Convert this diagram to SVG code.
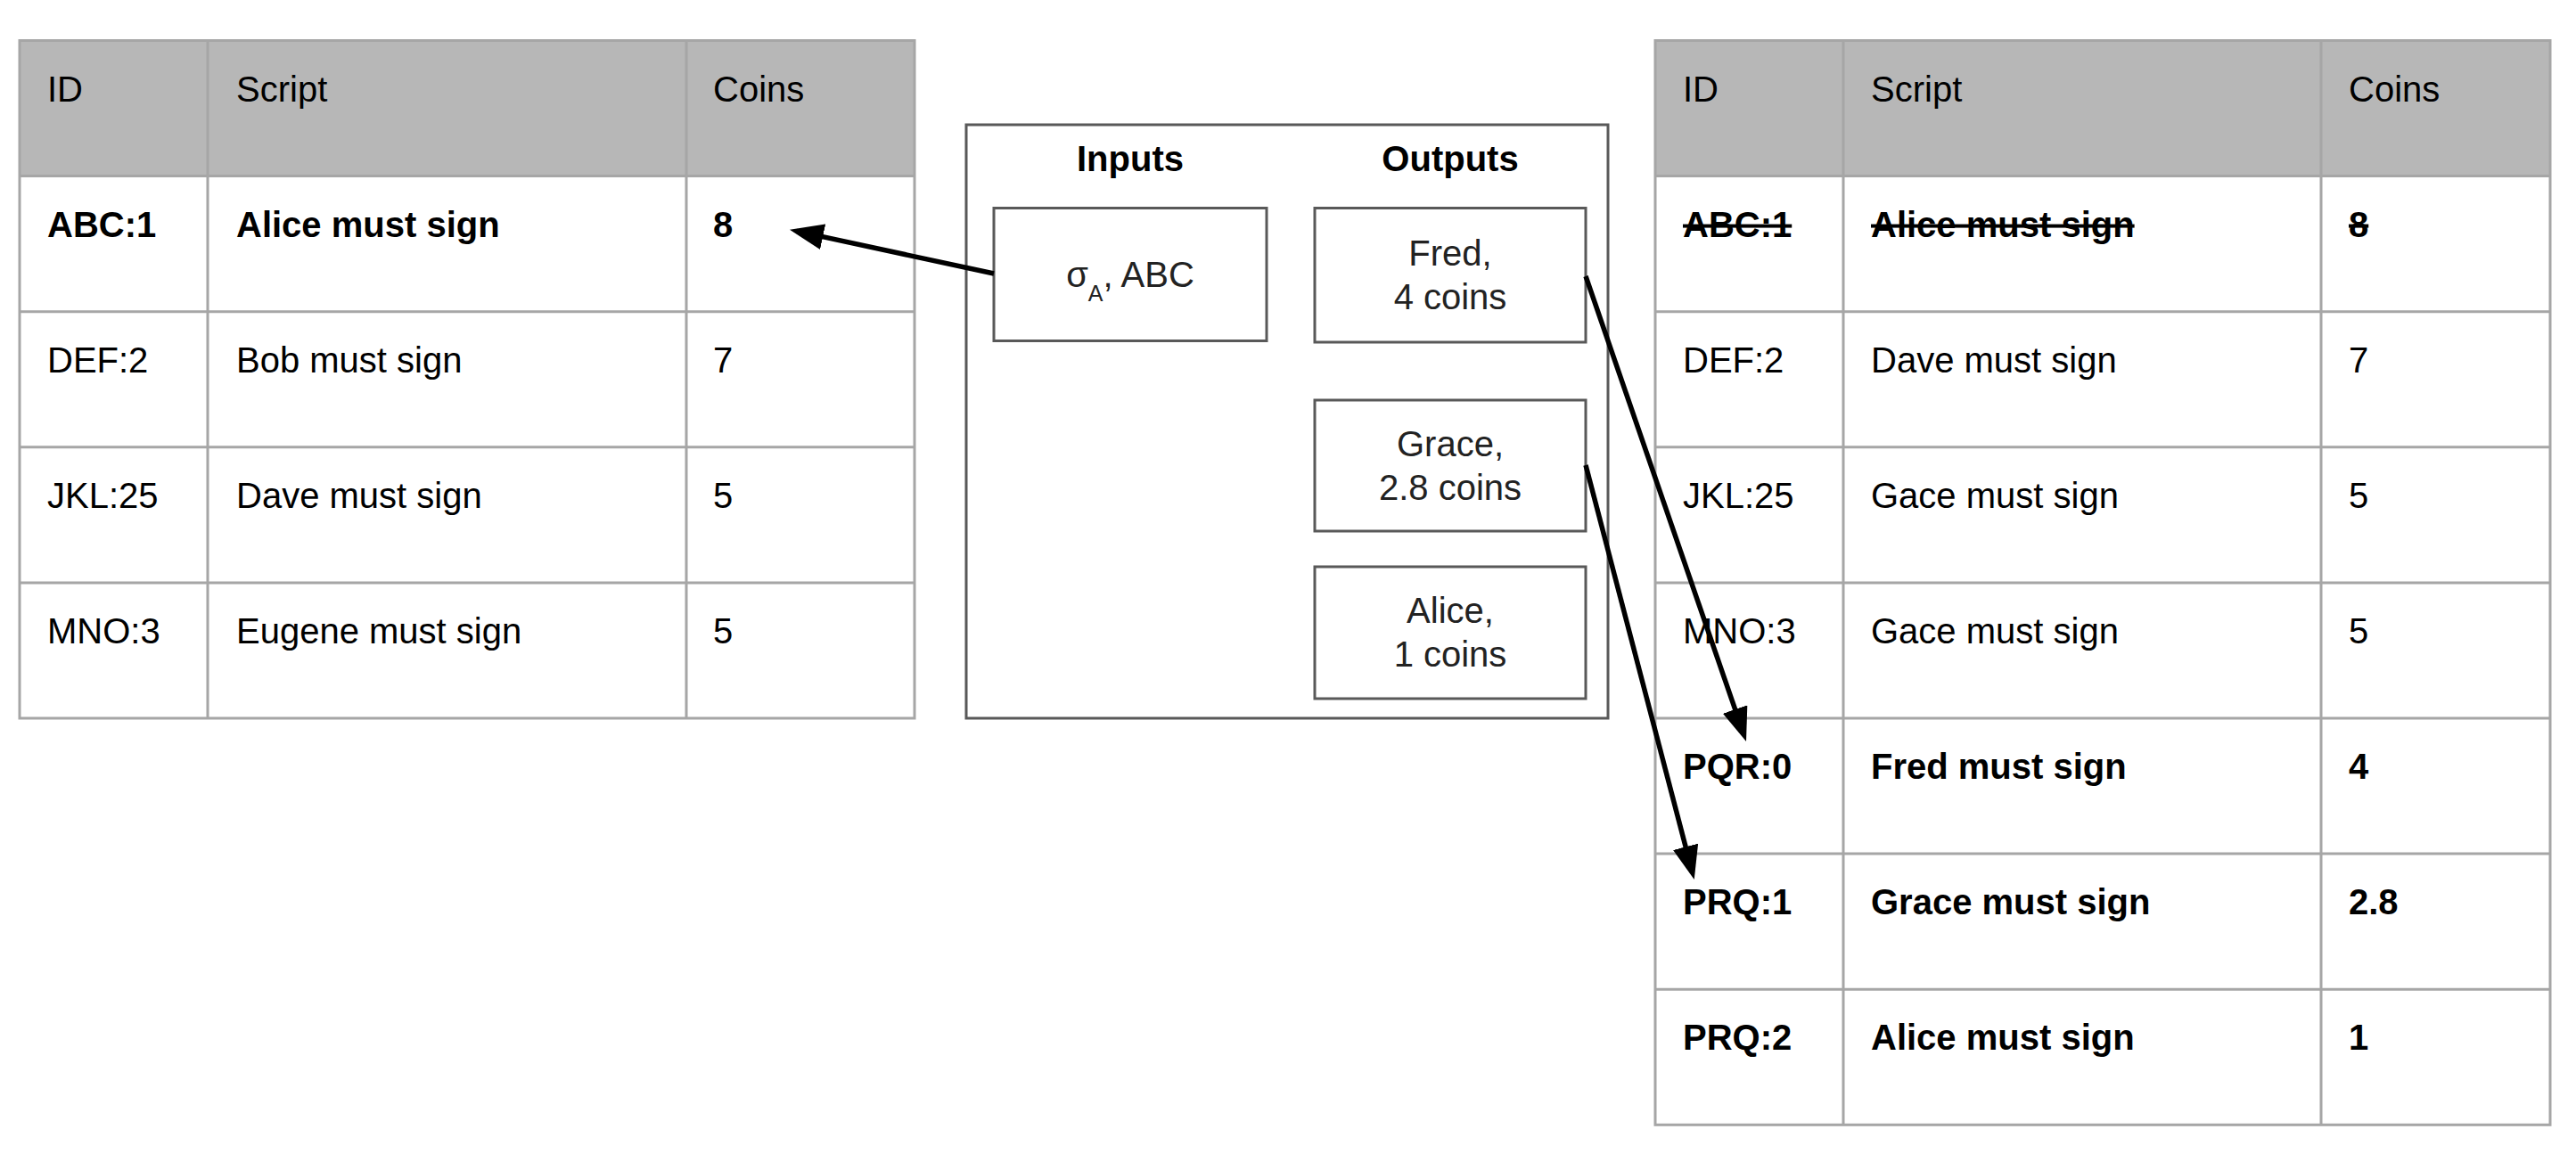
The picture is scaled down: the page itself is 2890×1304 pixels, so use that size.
<svg xmlns="http://www.w3.org/2000/svg" width="2890" height="1304" viewBox="0 0 2890 1304">
<defs>
<style>
text { font-family: "Liberation Sans", Arial, sans-serif; font-size: 40px; fill: #000; }
.b { font-weight: bold; }
.s { text-decoration: line-through; }
.grid { stroke: #a6a6a6; stroke-width: 3; fill: none; }
.outer { stroke: #a6a6a6; stroke-width: 3; fill: none; }
.hdr { fill: #b7b7b7; }
.box { fill: #fff; stroke: #595959; stroke-width: 3; }
.c { text-anchor: middle; fill: #222; }
.conn { stroke: #000; stroke-width: 5.5; fill: none; marker-end: url(#ah); }
</style>
<marker id="ah" markerUnits="userSpaceOnUse" markerWidth="40" markerHeight="30" refX="30" refY="14.5" orient="auto"><path d="M0,0 L38,14.5 L0,29 z" fill="#000"/></marker>
</defs>
<rect width="2890" height="1304" fill="#fff"/>

<g id="utxo-before">
<rect class="hdr" x="22" y="45.5" width="1004" height="152.1"/>
<path class="grid" d="M22 197.6H1026M22 349.7H1026M22 501.8H1026M22 653.9H1026M233 45.5V806M770 45.5V806"/>
<rect class="outer" x="22" y="45.5" width="1004" height="760.5"/>
<text x="53" y="113.5">ID</text><text x="265" y="113.5">Script</text><text x="800" y="113.5">Coins</text>
<text class="b" x="53" y="265.6">ABC:1</text><text class="b" x="265" y="265.6">Alice must sign</text><text class="b" x="800" y="265.6">8</text>
<text x="53" y="417.7">DEF:2</text><text x="265" y="417.7">Bob must sign</text><text x="800" y="417.7">7</text>
<text x="53" y="569.8">JKL:25</text><text x="265" y="569.8">Dave must sign</text><text x="800" y="569.8">5</text>
<text x="53" y="721.9">MNO:3</text><text x="265" y="721.9">Eugene must sign</text><text x="800" y="721.9">5</text>
</g>

<g id="transaction">
<rect class="box" x="1084" y="140" width="720" height="666"/>
<text class="b c" x="1268" y="192" style="fill:#000">Inputs</text>
<text class="b c" x="1627" y="192" style="fill:#000">Outputs</text>
<g id="input-sig">
<rect class="box" x="1115" y="233.5" width="306" height="149"/>
<text class="c" x="1268" y="322">σ<tspan font-size="25" dy="16">A</tspan><tspan dy="-16">, ABC</tspan></text>
</g>
<g id="output-fred">
<rect class="box" x="1475" y="233.5" width="304" height="150.5"/>
<text class="c" x="1627" y="298">Fred,</text><text class="c" x="1627" y="347">4 coins</text>
</g>
<g id="output-grace">
<rect class="box" x="1475" y="449" width="304" height="147"/>
<text class="c" x="1627" y="512">Grace,</text><text class="c" x="1627" y="561">2.8 coins</text>
</g>
<g id="output-alice">
<rect class="box" x="1475" y="636" width="304" height="148"/>
<text class="c" x="1627" y="699">Alice,</text><text class="c" x="1627" y="748">1 coins</text>
</g>
</g>

<g id="utxo-after">
<rect class="hdr" x="1857" y="45.5" width="1004" height="152.1"/>
<path class="grid" d="M1857 197.6H2861M1857 349.7H2861M1857 501.8H2861M1857 653.9H2861M1857 806H2861M1857 958.1H2861M1857 1110.2H2861M2068 45.5V1262.3M2604 45.5V1262.3"/>
<rect class="outer" x="1857" y="45.5" width="1004" height="1216.8"/>
<text x="1888" y="113.5">ID</text><text x="2099" y="113.5">Script</text><text x="2635" y="113.5">Coins</text>
<text class="b s" x="1888" y="265.6">ABC:1</text><text class="b s" x="2099" y="265.6">Alice must sign</text><text class="b s" x="2635" y="265.6">8</text>
<text x="1888" y="417.7">DEF:2</text><text x="2099" y="417.7">Dave must sign</text><text x="2635" y="417.7">7</text>
<text x="1888" y="569.8">JKL:25</text><text x="2099" y="569.8">Gace must sign</text><text x="2635" y="569.8">5</text>
<text x="1888" y="721.9">MNO:3</text><text x="2099" y="721.9">Gace must sign</text><text x="2635" y="721.9">5</text>
<text class="b" x="1888" y="874">PQR:0</text><text class="b" x="2099" y="874">Fred must sign</text><text class="b" x="2635" y="874">4</text>
<text class="b" x="1888" y="1026.1">PRQ:1</text><text class="b" x="2099" y="1026.1">Grace must sign</text><text class="b" x="2635" y="1026.1">2.8</text>
<text class="b" x="1888" y="1178.2">PRQ:2</text><text class="b" x="2099" y="1178.2">Alice must sign</text><text class="b" x="2635" y="1178.2">1</text>
</g>

<g id="connectors">
<line class="conn" x1="1115" y1="307" x2="893.8" y2="259.4"/>
<line class="conn" x1="1779" y1="310" x2="1956.4" y2="824.4"/>
<line class="conn" x1="1779" y1="522" x2="1898.7" y2="979.3"/>
</g>
</svg>
